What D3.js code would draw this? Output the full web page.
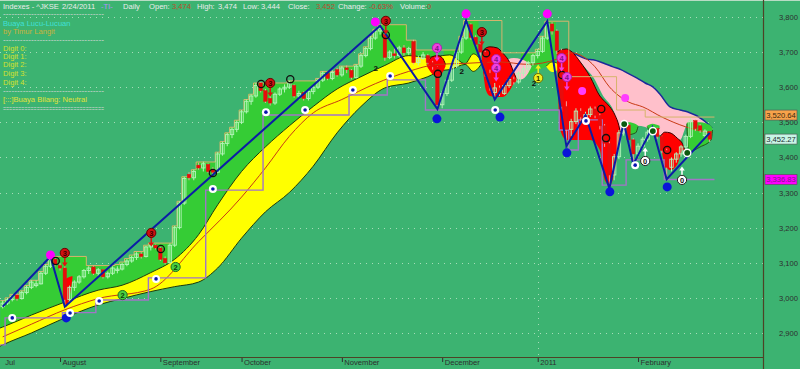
<!DOCTYPE html>
<html><head><meta charset="utf-8">
<script src="https://cdn.jsdelivr.net/npm/d3@7/dist/d3.min.js"></script>
<style>
html,body{margin:0;padding:0;background:#3cb371;}
svg{display:block;font-family:"Liberation Sans",Arial,sans-serif;}
</style></head><body>
<svg id="chart" width="800" height="369"></svg>
<script>
// ---------------- DATA ----------------
const monthTicks = [[0,"Jul"],[12,"August"],[33,"September"],[50,"October"],[71,"November"],[92,"December"],[112,"2011"],[133,"February"]];
const priceTicks = [2900,3000,3100,3200,3300,3400,3500,3600,3700,3800];

const openP = [2975,2985,2995,3008,2998,3015,3030,3035,3040,3070,
 3090,3110,3092,3085,2995,3030,3045,3060,3078,3088,
 3070,3080,3060,3070,3078,3082,3095,3105,3115,3125,
 3118,3145,3150,3142,3112,3100,3150,3200,3270,3352,
 3342,3378,3370,3380,3365,3358,3410,3440,3465,3480,
 3500,3530,3560,3575,3612,3590,3568,3555,3580,3595,
 3600,3605,3575,3585,3568,3588,3600,3620,3640,3625,
 3650,3635,3655,3648,3628,3660,3690,3710,3740,3760,
 3750,3685,3695,3690,3712,3698,3730,3670,3682,3690,
 3670,3658,3550,3582,3620,3660,3700,3740,3778,3742,
 3722,3700,3640,3585,3598,3582,3605,3622,3615,3640,
 3652,3670,3690,3702,3740,3780,3760,3705,3545,3480,
 3502,3532,3515,3522,3538,3520,3490,3440,3350,3402,
 3470,3492,3450,3410,3432,3452,3472,3482,3460,3420,
 3372,3395,3410,3430,3460,3505,3490,3462,3474];
const highP = [2992,3000,3010,3012,3020,3035,3050,3050,3075,3095,
 3118,3112,3100,3090,3035,3050,3065,3082,3090,3092,
 3085,3082,3075,3090,3090,3100,3110,3120,3130,3130,
 3148,3155,3152,3145,3118,3155,3205,3275,3345,3358,
 3365,3385,3388,3383,3372,3415,3445,3470,3485,3505,
 3535,3565,3580,3612,3615,3595,3575,3585,3600,3608,
 3618,3608,3590,3588,3592,3605,3625,3645,3645,3648,
 3655,3660,3662,3652,3665,3695,3715,3745,3765,3778,
 3755,3705,3710,3718,3720,3715,3735,3690,3700,3695,
 3675,3660,3590,3625,3665,3705,3745,3790,3782,3748,
 3728,3705,3650,3612,3605,3610,3628,3630,3645,3660,
 3675,3695,3708,3745,3788,3785,3765,3710,3560,3510,
 3540,3540,3530,3545,3545,3525,3495,3445,3410,3478,
 3500,3495,3455,3440,3458,3478,3488,3485,3462,3425,
 3400,3415,3435,3465,3512,3508,3495,3480,3474];
const lowP = [2970,2980,2990,2992,2995,3010,3025,3030,3038,3065,
 3085,3090,3078,2985,2985,3020,3040,3055,3068,3065,
 3062,3055,3055,3065,3070,3078,3090,3100,3108,3112,
 3115,3135,3138,3105,3095,3098,3145,3195,3265,3335,
 3335,3365,3360,3355,3350,3355,3405,3432,3455,3472,
 3495,3525,3550,3570,3585,3555,3548,3550,3575,3585,
 3595,3570,3565,3562,3562,3580,3595,3615,3620,3620,
 3630,3630,3640,3622,3625,3655,3685,3705,3735,3750,
 3675,3680,3682,3685,3690,3692,3665,3662,3678,3665,
 3650,3535,3540,3575,3615,3655,3695,3735,3735,3715,
 3690,3630,3590,3565,3575,3578,3598,3608,3610,3632,
 3645,3662,3682,3698,3735,3750,3695,3530,3430,3460,
 3495,3505,3500,3515,3512,3480,3430,3310,3335,3395,
 3462,3440,3375,3400,3425,3445,3465,3452,3412,3335,
 3360,3385,3402,3425,3455,3475,3470,3455,3444];
const closeP = [2985,2995,3005,2998,3015,3030,3045,3040,3070,3090,
 3110,3095,3085,2995,3030,3045,3060,3078,3085,3070,
 3080,3060,3070,3085,3082,3095,3105,3115,3125,3118,
 3145,3150,3142,3110,3100,3150,3200,3270,3340,3342,
 3360,3370,3382,3360,3358,3410,3440,3465,3480,3500,
 3530,3560,3575,3605,3590,3560,3555,3580,3595,3600,
 3612,3575,3582,3568,3588,3600,3620,3640,3625,3642,
 3635,3655,3650,3628,3660,3690,3710,3740,3760,3768,
 3685,3700,3690,3712,3698,3710,3670,3682,3692,3670,
 3658,3550,3582,3620,3660,3700,3740,3778,3742,3722,
 3700,3640,3600,3598,3582,3605,3622,3615,3640,3652,
 3670,3690,3702,3740,3780,3760,3705,3545,3480,3502,
 3532,3515,3522,3538,3520,3490,3440,3350,3402,3470,
 3492,3450,3410,3432,3452,3472,3482,3460,3420,3372,
 3395,3410,3430,3460,3505,3482,3478,3475,3452];

// step lines [bar index, price]
const upperStep = [[0,2992],[1,3000],[2,3010],[4,3020],[5,3035],[6,3050],[8,3075],[9,3095],[10,3118],[18,3092],[24,3095],[25,3102],[26,3112],[27,3122],[28,3132],[30,3150],[31,3156],[36,3205],[37,3275],[38,3345],[40,3365],[41,3387],[45,3415],[46,3445],[47,3470],[48,3486],[49,3506],[50,3535],[51,3565],[52,3580],[53,3612],[60,3618],[66,3625],[67,3645],[71,3660],[74,3665],[75,3695],[76,3715],[77,3745],[78,3765],[79,3778],[85,3734],[87,3706],[96,3745],[97,3790],[105,3698],[112,3708],[113,3745],[114,3788],[119,3630],[129,3535],[135,3515]];
const lowerStep = [[0,2866],[1,2943],[13,2958],[20,2994],[31,3057],[43,3307],[55,3521],[73,3578],[81,3621],[89,3535],[117,3478],[119,3421],[121,3507],[126,3321],[131,3393],[139,3337]];

// zigzag swing points
const swings = [[0,2975],[10,3118],[13,2975],[79,3775],[91,3538],[97,3790],[103,3565],[114,3788],[118,3432],[122,3520],[127,3312],[130,3500],[132,3380],[136,3485],[139,3338],[148,3470]];

// bands [index, upper, lower]
const yellowBand = [[-0.6,2914,2862],[0,2917,2866],[6,2951,2900],[13,2988,2943],[20,3022,2980],[25,3036,2998],[31,3072,3018],[36,3110,3032],[41,3180,3045],[45,3265,3085],[50,3360,3170],[55,3430,3245],[60,3490,3300],[65,3545,3375],[70,3595,3470],[75,3630,3545],[80,3662,3598],[85,3690,3612],[89,3685,3630],[92,3690,3648],[93.6,3692,3650],[96.8,3667,3665],[98.5,3695,3645],[100.4,3672,3670]];
const yellowBand2 = [[113.8,3660,3658],[115,3672,3643],[116.2,3668,3650],[116.8,3660,3659]];
const greenBase = [[-0.6,2914],[0,2917],[6,2951],[13,2988],[20,3022],[25,3036],[31,3072],[36,3110],[41,3180],[45,3265],[50,3360],[55,3430],[60,3490],[65,3545],[70,3595],[75,3630],[80,3662],[85,3690],[89,3685],[92,3690],[93.6,3692],[96.8,3667],[98.5,3695],[100.4,3672],[104,3650],[108.5,3629],[112,3649],[114,3660],[116,3670],[118,3670]];
const greenSpans = [[-1,90.5],[92.3,99.6],[108.5,115.8]];
const redZone0 = [[12.7,3050,3040],[13.3,3055,2975],[14.6,3062,3055]];
const redZone1 = [[88.8,3665,3660],[89.8,3686,3640],[91,3690,3630],[92,3684,3640],[92.7,3665,3660]];
const redZone2 = [[100.3,3700,3680],[101.2,3712,3590],[102,3715,3575],[103.5,3712,3572],[104.7,3697,3572],[106.2,3669,3592],[107.2,3635,3615],[107.7,3622,3620]];
const redZone3 = [[116,3700,3690],[116.7,3705,3478],[118,3709,3450],[119.2,3700,3450],[120.9,3672,3450],[123,3629,3450],[125,3575,3421],[126,3560,3336],[127.1,3544,3322],[128.2,3520,3364],[129,3490,3440],[129.4,3464,3462]];
const redZone4 = [[137.6,3458,3456],[138.6,3472,3379],[139.7,3470,3364],[141.2,3455,3380],[142.4,3436,3421],[142.8,3418,3416]];
const pinkZone1 = [[105.8,3680,3678],[107,3683,3625],[108.5,3680,3622],[110,3670,3640],[110.7,3660,3658]];
const pinkZone2 = [[119.2,3700,3700],[120.5,3690,3678],[122.3,3680,3650],[123.6,3678,3629],[125.7,3669,3575],[127.8,3658,3535],[129.4,3650,3464],[130.7,3641,3480],[132.8,3626,3490],[134.5,3612,3487],[136.1,3601,3475],[137.6,3580,3464],[139.7,3544,3462],[141.8,3535,3450],[143.3,3530,3492],[146.6,3507,3492],[148.5,3484,3478]];
const greenZoneA = [[130,3495,3493],[131,3500,3465],[132.5,3495,3470],[133,3490,3488]];
const greenZoneB = [[134.9,3490,3488],[136,3496,3470],[137.5,3490,3484]];
const greenZoneC = [[143.2,3498,3496],[143.6,3500,3416],[146,3500,3430],[148.3,3490,3450],[148.6,3480,3478]];
const maLine = [[0,2889],[6,2925],[13,2966],[20,2998],[31,3025],[41,3160],[50,3287],[55,3370],[60,3460],[65,3527],[71,3565],[78,3610],[85,3645],[91,3665],[97,3668],[104,3672],[110,3665],[116,3680],[119,3698],[124,3658],[127,3601],[131,3558],[134,3544],[138,3515],[143,3487],[148,3470]];

// signal markers [index, price]
const peakDots = [[10,3122],[78,3786],[97,3809],[114,3809]];
const softPeakDots = [[121.3,3589],[130.3,3569]];
const troughDots = [[13.3,2943],[90.9,3510],[104.1,3515],[118.1,3413],[127.1,3302],[139.1,3316]];
const supportRings = [[2,2943],[14.1,2957],[20.2,2991],[32.1,3054],[44,3310],[55.1,3529],[63.3,3535],[73.3,3592],[81.1,3632],[103.1,3535],[122.1,3504],[132.4,3378]];
const blackRings = [[11.1,3105],[33.1,3139],[44,3356],[54.1,3609],[60.2,3623],[80.2,3749],[91.1,3638],[101.2,3697],[117.1,3635],[125.3,3538],[126.3,3455],[139.1,3421]];
const greenRings = [[130.1,3495],[136.1,3475],[143.3,3413]];
const digit3 = [[13,3128],[31.1,3185],[56,3612],[80.2,3789],[100.3,3757]];
const digit4 = [[90.9,3712],[103.3,3680],[103.3,3655],[117,3683],[118.1,3629]];
const digit2 = [[25.1,3008],[36.2,3088]];
const plain2 = [[78.1,3655],[96.1,3646],[111.2,3612]];
const digit1 = [[112.1,3626]];
const digit0 = [[134.5,3390],[142.2,3336]];

const lastValues = [[3520.64,"3,520.64","#f7a24a","#3a2a10"],[3452.27,"3,452.27","#c8f5e6","#203030"],[3336.83,"3,336.83","#ff00ff","#7a1a8a"]];

const headerItems = [["Indexes - ^JKSE","#ececec"],["2/24/2011","#ececec"],["-TI-","#b58cff"],["Daily","#ececec"],["Open:","#ececec"],["3,474","#b8502c"],["High:","#ececec"],["3,474","#ececec"],["Low:","#ececec"],["3,444","#ececec"],["Close:","#ececec"],["3,452","#b8502c"],["Change:","#ececec"],["-0.63%","#c8402c"],["Volume:","#ececec"],["0","#b8502c"]];
const headerX = [3,62,101,123,149,172,197,218,243,261,288,316,338,369,400,427];
const legendLines = [["------------------------------------","#d8d8d8",true],["Buaya Lucu-Lucuan","#3fe0d8",false],["by Timur Langit","#c9b23c",false],["------------------------------------","#d8d8d8",true],["Digit 0:","#d4e030",false],["Digit 1:","#d4e030",false],["Digit 2:","#d4e030",false],["Digit 3:","#d4e030",false],["Digit 4:","#d4e030",false],["------------------------------------","#d8d8d8",true],["[:::]Buaya Bilang: Neutral","#e2e23a",false],["=================================","#d8d8d8",true]];

// ---------------- DRAW ----------------
const W=800,H=369,plotR=763,plotB=357;
const x = d3.scaleLinear().domain([0,148]).range([2.7,709.7]);
const y = d3.scaleLinear().domain([2831.6,3848.4]).range([plotB,0]);
const svg = d3.select("#chart");
svg.append("rect").attr("width",W).attr("height",H).attr("fill","#3cb371");
const defs = svg.append("defs");
const FS = 7.6;

// grid
svg.append("g").selectAll("line").data(priceTicks).join("line")
  .attr("x1",0).attr("x2",plotR).attr("y1",d=>Math.round(y(d))+0.5).attr("y2",d=>Math.round(y(d))+0.5)
  .attr("stroke","#a6dcb8").attr("stroke-dasharray","1,5");
svg.append("line").attr("x1",Math.round(x(112))+0.5).attr("x2",Math.round(x(112))+0.5).attr("y1",0).attr("y2",plotB)
  .attr("stroke","#a6dcb8").attr("stroke-dasharray","1,5");

// clip paths
const stepArea = d3.area().x(d=>x(d[0]-0.5)).y0(plotB).y1(d=>y(d[1])).curve(d3.curveStepAfter);
const upperExt = upperStep.concat([[149.5, upperStep[upperStep.length-1][1]]]);
defs.append("clipPath").attr("id","belowUpper").append("path").attr("d",stepArea(upperExt));
const gs = defs.append("clipPath").attr("id","greenSpan");
greenSpans.forEach(s=>gs.append("rect").attr("x",x(s[0])).attr("width",x(s[1])-x(s[0])).attr("y",0).attr("height",plotB));

const bandArea = d3.area().x(d=>x(d[0])).y0(d=>y(d[2])).y1(d=>y(d[1])).curve(d3.curveMonotoneX);
const topLine = d3.line().x(d=>x(d[0])).y(d=>y(d[1])).curve(d3.curveMonotoneX);
const botLine = d3.line().x(d=>x(d[0])).y(d=>y(d[2])).curve(d3.curveMonotoneX);

// green region
const gArea = d3.area().x(d=>x(d[0])).y0(d=>y(d[1])).y1(0).curve(d3.curveMonotoneX);
svg.append("g").attr("clip-path","url(#belowUpper)").append("g").attr("clip-path","url(#greenSpan)")
  .append("path").attr("d",gArea(greenBase)).attr("fill","#35cc35");

function zone(data, fill, topStroke, botStroke){
  svg.append("path").attr("d",bandArea(data)).attr("fill",fill);
  if(topStroke) svg.append("path").attr("d",topLine(data)).attr("fill","none").attr("stroke",topStroke.c).attr("stroke-width",topStroke.w);
  if(botStroke) svg.append("path").attr("d",botLine(data)).attr("fill","none").attr("stroke",botStroke.c).attr("stroke-width",botStroke.w);
}
zone(yellowBand,"#ffff00",{c:"#1d3a0c",w:1},{c:"#1d3a0c",w:1});
zone(yellowBand2,"#ffff00",{c:"#1d3a0c",w:0.8},null);
zone(pinkZone1,"#ffc0cb",null,null);
zone(pinkZone2,"#ffc0cb",{c:"#1a2a9a",w:1.5},null);
zone(redZone0,"#ff0000",null,null);
zone(redZone1,"#ff0000",{c:"#3a0000",w:1},null);
zone(redZone2,"#ff0000",{c:"#3a0000",w:1},null);
zone(redZone3,"#ff0000",{c:"#3a0000",w:1},null);
zone(redZone4,"#ff0000",{c:"#3a0000",w:1},null);
zone(greenZoneA,"#35cc35",null,{c:"#1d3a0c",w:0.8});
zone(greenZoneB,"#35cc35",null,{c:"#1d3a0c",w:0.8});
zone(greenZoneC,"#35cc35",null,{c:"#1d3a0c",w:0.8});

// moving average line
svg.append("path").attr("d",d3.line().x(d=>x(d[0])).y(d=>y(d[1])).curve(d3.curveMonotoneX)(maLine))
  .attr("fill","none").attr("stroke","#c83a14").attr("stroke-width",1);

// step lines
const stepLine = d3.line().x(d=>x(d[0]-0.5)).y(d=>y(d[1])).curve(d3.curveStepAfter);
svg.append("path").attr("d",stepLine(upperExt)).attr("fill","none").attr("stroke","#d6b46c").attr("stroke-width",1);
const lowerExt = lowerStep.concat([[149.5, lowerStep[lowerStep.length-1][1]]]);
svg.append("path").attr("d",stepLine(lowerExt)).attr("fill","none").attr("stroke","#a274c8").attr("stroke-width",1.4);

// candles
const idx = d3.range(closeP.length);
const cg = svg.append("g");
idx.forEach(i=>{
  const up = closeP[i] >= openP[i];
  const col = up ? "#b4f4ba" : "#e80c0c";
  cg.append("line").attr("x1",x(i)).attr("x2",x(i)).attr("y1",y(highP[i])).attr("y2",y(lowP[i]))
    .attr("stroke", up ? "#b4f4ba" : "#f0a0a0").attr("stroke-width",1);
  const t = y(Math.max(openP[i],closeP[i])), b = y(Math.min(openP[i],closeP[i]));
  cg.append("rect").attr("x",x(i)-1.7).attr("y",t).attr("width",3.4).attr("height",Math.max(1,b-t))
    .attr("fill", up ? "none" : col).attr("stroke",col).attr("stroke-width", up?0.9:0.5);
});

// zigzag
svg.append("path").attr("d",d3.line().x(d=>x(d[0])).y(d=>y(d[1]))(swings))
  .attr("fill","none").attr("stroke","#0c1ca6").attr("stroke-width",2);

// markers
const mk = svg.append("g");
peakDots.forEach(d=>mk.append("circle").attr("cx",x(d[0])).attr("cy",y(d[1])).attr("r",4.5).attr("fill","#ff00ff"));
softPeakDots.forEach(d=>mk.append("circle").attr("cx",x(d[0])).attr("cy",y(d[1])).attr("r",4).attr("fill","#ff3cff"));
troughDots.forEach(d=>mk.append("circle").attr("cx",x(d[0])).attr("cy",y(d[1])).attr("r",4.5).attr("fill","#0a14d8"));
supportRings.forEach(d=>{
  mk.append("circle").attr("cx",x(d[0])).attr("cy",y(d[1])).attr("r",4).attr("fill","#ffffff");
  mk.append("circle").attr("cx",x(d[0])).attr("cy",y(d[1])).attr("r",1.8).attr("fill","#0a14b0");
});
blackRings.forEach(d=>mk.append("circle").attr("cx",x(d[0])).attr("cy",y(d[1])).attr("r",3.6).attr("fill","none").attr("stroke","#101010").attr("stroke-width",1.3));
greenRings.forEach(d=>mk.append("circle").attr("cx",x(d[0])).attr("cy",y(d[1])).attr("r",3.6).attr("fill","#0b5a10").attr("stroke","#ffffff").attr("stroke-width",1.4));

function badge(d, fill, stroke, txt, tcol, arrow, acol){
  const cx=x(d[0]), cy=y(d[1]);
  if(arrow==="down"){
    mk.append("line").attr("x1",cx).attr("x2",cx).attr("y1",cy+5).attr("y2",cy+10).attr("stroke",acol).attr("stroke-width",1.5);
    mk.append("path").attr("d",`M${cx-2.8},${cy+9.5}L${cx+2.8},${cy+9.5}L${cx},${cy+13.5}Z`).attr("fill",acol);
  } else if(arrow==="up"){
    mk.append("line").attr("x1",cx).attr("x2",cx).attr("y1",cy-5).attr("y2",cy-10).attr("stroke",acol).attr("stroke-width",1.5);
    mk.append("path").attr("d",`M${cx-2.8},${cy-9.5}L${cx+2.8},${cy-9.5}L${cx},${cy-13.5}Z`).attr("fill",acol);
  }
  mk.append("circle").attr("cx",cx).attr("cy",cy).attr("r",4.6).attr("fill",fill).attr("stroke",stroke).attr("stroke-width",1);
  mk.append("text").attr("x",cx).attr("y",cy+2.7).attr("text-anchor","middle").attr("font-size",7.5).attr("font-weight","bold").attr("fill",tcol).text(txt);
}
digit3.forEach(d=>badge(d,"#d01010","#6a0000","3","#3a0000","down","#e01010"));
digit4.forEach(d=>badge(d,"#f040e0","#b020b0","4","#80108a","down","#f040e0"));
digit2.forEach(d=>badge(d,"#4ad040","#207020","2","#0a3a0a","none",""));
digit1.forEach(d=>badge(d,"#f0f020","#707000","1","#303000","up","#f0f020"));
digit0.forEach(d=>badge(d,"#ffffff","#202020","0","#101010","up","#ffffff"));
plain2.forEach(d=>mk.append("text").attr("x",x(d[0])).attr("y",y(d[1])+3).attr("text-anchor","middle").attr("font-size",8).attr("font-weight","bold").attr("fill","#101010").text("2"));

// axes frame
svg.append("line").attr("x1",0).attr("x2",W).attr("y1",0.5).attr("y2",0.5).attr("stroke","#b8dcc4");
svg.append("line").attr("x1",0).attr("x2",plotR).attr("y1",plotB+0.5).attr("y2",plotB+0.5).attr("stroke","#4e4226").attr("stroke-width",1.2);
svg.append("line").attr("x1",plotR+0.5).attr("x2",plotR+0.5).attr("y1",0).attr("y2",H).attr("stroke","#4e4226").attr("stroke-width",1.2);

// y axis
const yAxis = d3.axisRight(y).tickValues(priceTicks).tickFormat(d3.format(",")).tickSize(0);
const ya = svg.append("g").attr("transform",`translate(${plotR},0)`).call(yAxis);
ya.select(".domain").remove();
ya.selectAll("text").attr("x",35).attr("dy","0.33em").attr("text-anchor","end").attr("font-size",FS).attr("fill","#2e2e2e").attr("font-family","Liberation Sans, Arial");

// x axis
const xAxis = d3.axisBottom(x).tickValues(monthTicks.map(d=>d[0])).tickFormat((d,i)=>monthTicks[i][1]).tickSize(4);
const xa = svg.append("g").attr("transform",`translate(0,${plotB+1})`).call(xAxis);
xa.select(".domain").remove();
xa.selectAll(".tick line").attr("stroke","#2e2e2e").attr("opacity",(d,i)=>i===0?0:1);
xa.selectAll("text").attr("text-anchor","start").attr("dx",2).attr("y",2).attr("dy","0.71em").attr("font-size",FS).attr("fill","#2e2e2e").attr("font-family","Liberation Sans, Arial");

// last value boxes
lastValues.forEach(v=>{
  const cy=y(v[0]);
  svg.append("rect").attr("x",765).attr("y",cy-5).attr("width",32).attr("height",10).attr("fill",v[2]).attr("stroke","#505050").attr("stroke-width",0.6);
  svg.append("text").attr("x",781).attr("y",cy+2.7).attr("text-anchor","middle").attr("font-size",FS).attr("fill",v[3]).text(v[1]);
});

// header
headerItems.forEach((h,i)=>svg.append("text").attr("x",headerX[i]).attr("y",8.6).attr("font-size",FS).attr("fill",h[1]).text(h[0]));

// legend
const legendY = [16.2,25.5,33.8,41.6,50.5,58.8,67.3,76.1,84.8,93,102.1,111];
legendLines.forEach((l,i)=>{
  const t = svg.append("text").attr("x",3).attr("y",legendY[i]).attr("font-size",FS).attr("fill",l[1]).text(l[0]);
  if(l[2]) t.attr("textLength",101).attr("lengthAdjust","spacingAndGlyphs");
});
</script></body></html>
